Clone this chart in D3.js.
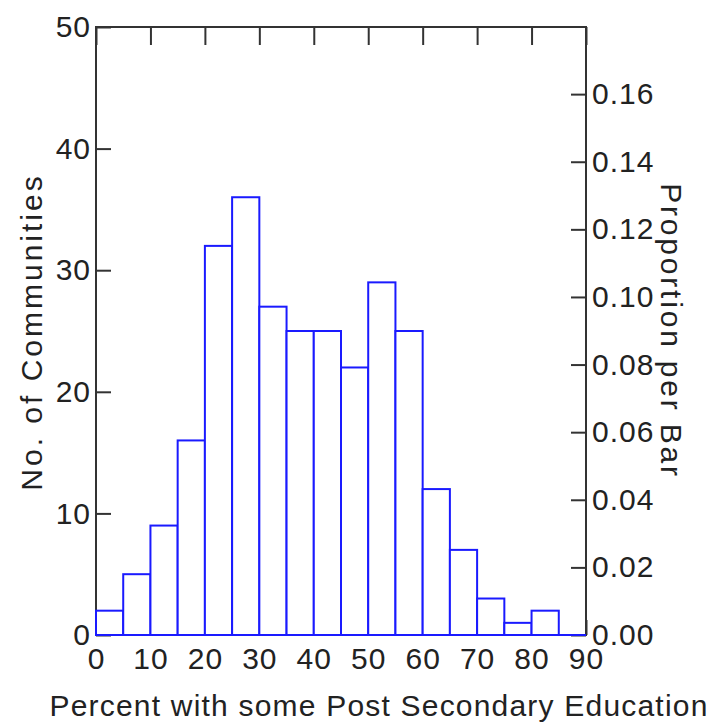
<!DOCTYPE html>
<html>
<head>
<meta charset="utf-8">
<script src="https://cdn.jsdelivr.net/npm/d3@7"></script>
<style>
  body { margin: 0; background: #fff; }
  text { font-family: "Liberation Sans", Arial, sans-serif; fill: #222; }
</style>
</head>
<body>
<div id="chart"></div>
<script>
// bins of 5 percentage points
const binStart = [0, 5, 10, 15, 20, 25, 30, 35, 40, 45, 50, 55, 60, 65, 70, 75, 80, 85]
const counts   = [2, 5, 9, 16, 32, 36, 27, 25, 25, 22, 29, 25, 12, 7, 3, 1, 2, 0]
const binWidth = 5
const xTicks = [0, 10, 20, 30, 40, 50, 60, 70, 80, 90]
const yTicks = [0, 10, 20, 30, 40, 50]
const propTicks = [0, 0.02, 0.04, 0.06, 0.08, 0.10, 0.12, 0.14, 0.16]

const total = d3.sum(counts)

const width = 716
const height = 725
const margin = {top: 27, bottom: 90, left: 96, right: 130}
const fontSize = 30

const svg = d3.select("#chart")
    .append("svg")
    .attr("width", width)
    .attr("height", height)

const x = d3.scaleLinear().domain([0, 90]).range([margin.left, width - margin.right])
const y = d3.scaleLinear().domain([0, 50]).range([height - margin.bottom, margin.top])
const yProp = d3.scaleLinear().domain([0, 50 / total]).range([height - margin.bottom, margin.top])

const axisColor = "#333"

function styleAxis(g) {
    g.select(".domain").remove()
    g.selectAll("line").attr("stroke", axisColor).attr("stroke-width", 2)
    g.selectAll("text").attr("font-size", fontSize).attr("fill", "#222")
        .attr("letter-spacing", 1)
        .attr("font-family", "Liberation Sans, Arial, sans-serif")
}

// bottom
svg.append("g")
    .attr("transform", `translate(0, ${y(0)})`)
    .call(d3.axisBottom(x).tickValues(xTicks).tickSizeInner(-15).tickSizeOuter(0).tickPadding(13))
    .call(styleAxis)

// top (no labels)
svg.append("g")
    .attr("transform", `translate(0, ${y(50)})`)
    .call(d3.axisTop(x).tickValues(xTicks).tickSizeInner(-18).tickSizeOuter(0).tickFormat(""))
    .call(styleAxis)

// left
svg.append("g")
    .attr("transform", `translate(${x(0)}, 0)`)
    .call(d3.axisLeft(y).tickValues(yTicks).tickSizeInner(-15).tickSizeOuter(0).tickPadding(5))
    .call(styleAxis)

// right
svg.append("g")
    .attr("transform", `translate(${x(90)}, 0)`)
    .call(d3.axisRight(yProp).tickValues(propTicks).tickSizeInner(-15).tickSizeOuter(0).tickPadding(6)
        .tickFormat(d3.format(".2f")))
    .call(styleAxis)

// frame
svg.append("rect")
    .attr("x", x(0))
    .attr("y", y(50))
    .attr("width", x(90) - x(0))
    .attr("height", y(0) - y(50))
    .attr("fill", "none")
    .attr("stroke", axisColor)
    .attr("stroke-width", 2)

// bars
svg.append("g").selectAll("rect")
    .data(binStart.map((s, i) => ({start: s, count: counts[i]})).filter(d => d.count > 0))
    .join("rect")
        .attr("x", d => x(d.start))
        .attr("y", d => y(d.count))
        .attr("width", d => x(d.start + binWidth) - x(d.start))
        .attr("height", d => y(0) - y(d.count))
        .attr("fill", "#fff")
        .attr("stroke", "#1a1aff")
        .attr("stroke-width", 2)

// baseline of the histogram
svg.append("line")
    .attr("x1", x(0)).attr("x2", x(90))
    .attr("y1", y(0)).attr("y2", y(0))
    .attr("stroke", "#1a1aff")
    .attr("stroke-width", 2)

// titles
svg.append("text")
    .text("Percent with some Post Secondary Education")
    .attr("x", 379)
    .attr("y", 716)
    .attr("text-anchor", "middle")
    .attr("font-size", fontSize)
    .attr("letter-spacing", 1.2)

svg.append("text")
    .text("No. of Communities")
    .attr("transform", `translate(42, 332) rotate(-90)`)
    .attr("text-anchor", "middle")
    .attr("font-size", fontSize)
    .attr("letter-spacing", 3)

svg.append("text")
    .text("Proportion per Bar")
    .attr("transform", `translate(661, 331) rotate(90)`)
    .attr("text-anchor", "middle")
    .attr("font-size", fontSize)
    .attr("letter-spacing", 2.8)
</script>
</body>
</html>
